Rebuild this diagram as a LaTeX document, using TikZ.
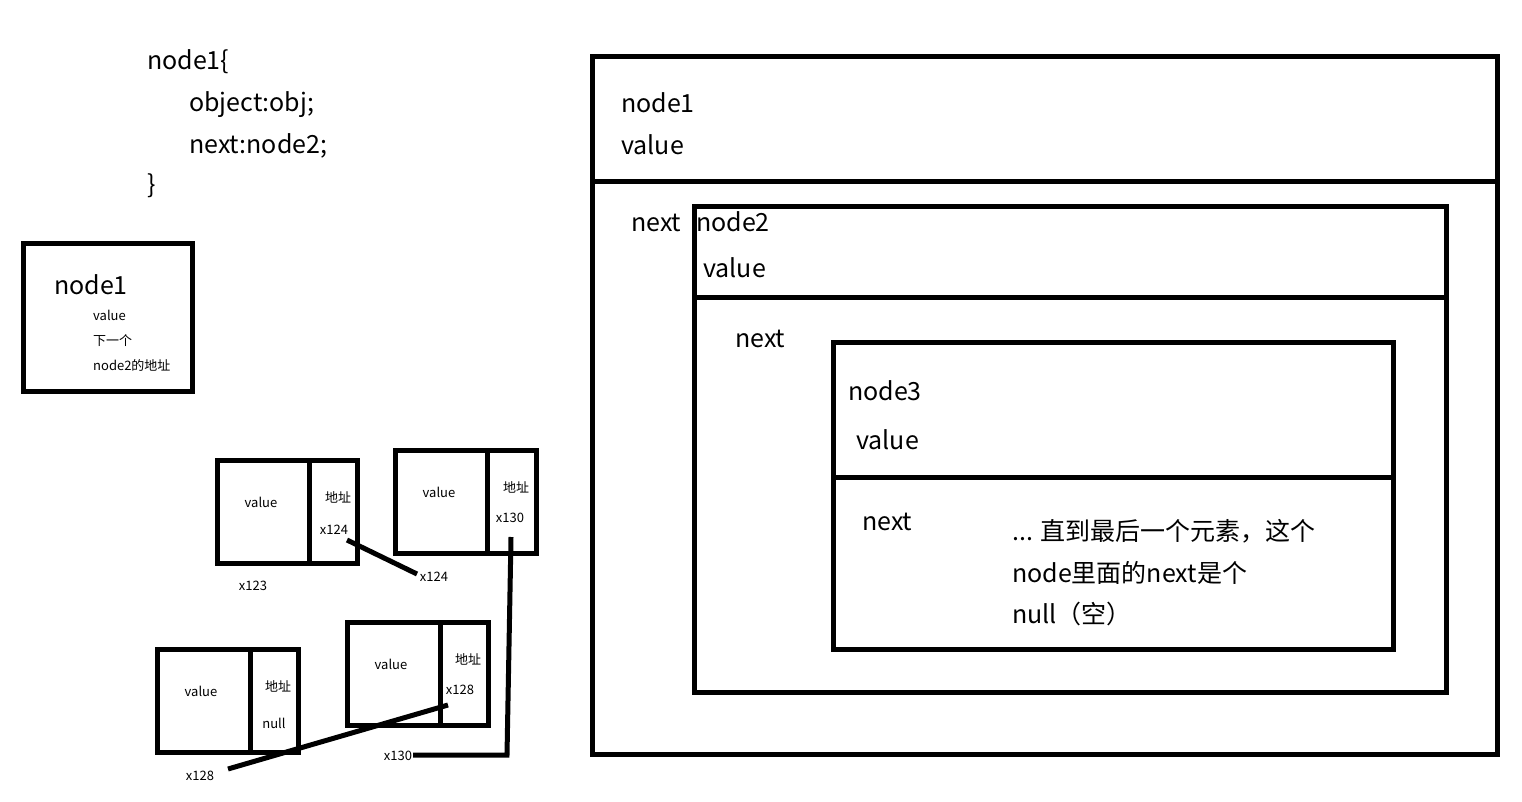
\documentclass[tikz,border=0pt]{standalone}
\usepackage{fontspec}
\setmainfont{Noto Sans CJK SC}
\begin{document}
\begin{tikzpicture}[x=1pt,y=-1pt,
  box/.style={draw, line width=5pt},
  big/.style={font=\fontsize{25}{29}\selectfont, anchor=base west, inner sep=0pt},
  small/.style={font=\fontsize{13}{15}\selectfont, anchor=base west, inner sep=0pt},
  smallc/.style={font=\fontsize{13}{15}\selectfont, anchor=base, inner sep=0pt},
  link/.style={line width=5pt}]
\useasboundingbox (0,0) rectangle (1522,802);

% code text
\node[big] (c1) at (147,70) {node1\{};
\node[big] (c2) at (189,112) {object:obj;};
\node[big] (c3) at (189,154) {next:node2;};
\node[big] (c4) at (147,194) {\}};

% left box
\draw[box] (23,244) rectangle (192,391);
\node[big] (l1) at (54,294) {node1};
\node[small] (l2) at (93,320) {value};
\node[small] (l3) at (93,345) {下一个};
\node[small] (l4) at (93,370) {node2的地址};

% small boxes
\draw[box] (217,460) rectangle (357,563);
\draw[box] (309,460) -- (309,563);
\node[smallc] (av) at (261,507) {value};
\node[smallc] (aa) at (338,502) {地址};
\node[smallc] (ax) at (334,534) {x124};
\node[smallc] (an) at (253,590) {x123};

\draw[box] (395,450) rectangle (536,553);
\draw[box] (487,450) -- (487,553);
\node[smallc] (bv) at (439,497) {value};
\node[smallc] (ba) at (516,492) {地址};
\node[smallc] (bx) at (510,522) {x130};
\node[smallc] (bn) at (434,581) {x124};

\draw[box] (347,622) rectangle (488,725);
\draw[box] (440,622) -- (440,725);
\node[smallc] (cv) at (391,669) {value};
\node[smallc] (ca) at (468,664) {地址};
\node[smallc] (cx) at (460,694) {x128};
\node[smallc] (cn) at (398,760) {x130};

\draw[box] (157,649) rectangle (298,752);
\draw[box] (250,649) -- (250,752);
\node[smallc] (dv) at (201,696) {value};
\node[smallc] (da) at (278,691) {地址};
\node[smallc] (dx) at (274,728) {null};
\node[smallc] (dn) at (200,780) {x128};

\coordinate (a1) at (347,540);
\coordinate (a2) at (417,574);
\coordinate (b1) at (511,537);
\coordinate (b2) at (507,755);
\coordinate (b3) at (413,755);
\coordinate (e1) at (448,705);
\coordinate (e2) at (228,769);
\draw[link] (a1) -- (a2);
\draw[link] (b1) -- (b2) -- (b3);
\draw[link] (e1) -- (e2);

% big nested boxes
\draw[box] (592,57) rectangle (1497,754);
\draw[box] (592,182) -- (1497,182);
\node[big] (n1) at (621,113) {node1};
\node[big] (v1) at (621,155) {value};
\node[big] (x1) at (631,232) {next};

\draw[box] (694,207) rectangle (1446,692);
\draw[box] (694,297) -- (1446,297);
\node[big] (n2) at (696,232) {node2};
\node[big] (v2) at (703,277) {value};
\node[big] (x2) at (735,347) {next};

\draw[box] (833,342) rectangle (1393,649);
\draw[box] (833,477) -- (1393,477);
\node[big] (n3) at (848,400) {node3};
\node[big] (v3) at (856,449) {value};
\node[big] (x3) at (862,530) {next};

\node[big] (t1) at (1012,540) {... 直到最后一个元素，这个};
\node[big] (t2) at (1012,582) {node里面的next是个};
\node[big] (t3) at (1012,623) {null（空）};
\end{tikzpicture}
\end{document}
